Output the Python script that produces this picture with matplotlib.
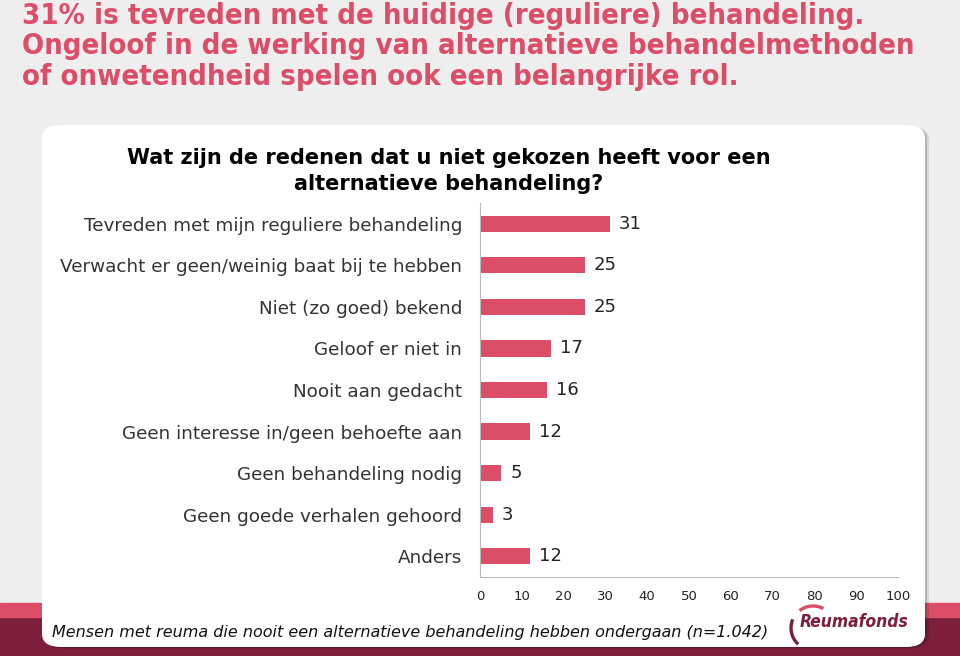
import numpy as np
import matplotlib
matplotlib.use("Agg")
import matplotlib.pyplot as plt
from matplotlib.patches import FancyBboxPatch, Rectangle, Arc

PINK = "#dc4d68"
MAROON = "#7d1f3c"
BG = "#eeeeee"

headline = ["31% is tevreden met de huidige (reguliere) behandeling.",
            "Ongeloof in de werking van alternatieve behandelmethoden",
            "of onwetendheid spelen ook een belangrijke rol."]
question = "Wat zijn de redenen dat u niet gekozen heeft voor een\nalternatieve behandeling?"
categories = ["Tevreden met mijn reguliere behandeling",
              "Verwacht er geen/weinig baat bij te hebben",
              "Niet (zo goed) bekend",
              "Geloof er niet in",
              "Nooit aan gedacht",
              "Geen interesse in/geen behoefte aan",
              "Geen behandeling nodig",
              "Geen goede verhalen gehoord",
              "Anders"]
values = [31, 25, 25, 17, 16, 12, 5, 3, 12]
xticks = list(range(0, 101, 10))
footnote = "Mensen met reuma die nooit een alternatieve behandeling hebben ondergaan (n=1.042)"

W, H = 960, 656
fig = plt.figure(figsize=(W / 100, H / 100), dpi=100)
fig.patch.set_facecolor(BG)

def fx(px):
    return px / W

def fy(py):
    return 1 - py / H

# bottom band: pink stripe over maroon
fig.patches.append(Rectangle((0, 0), 1, fy(617), transform=fig.transFigure,
                             color=MAROON, zorder=0))
fig.patches.append(Rectangle((0, fy(617)), 1, fy(603) - fy(617),
                             transform=fig.transFigure, color=PINK, zorder=0))

# white card with a soft shadow
for off, a in [(4, 0.10), (2, 0.15)]:
    fig.patches.append(FancyBboxPatch(
        (fx(42 + off), fy(647 + off / 2)), fx(925 - 42), fy(125) - fy(647),
        boxstyle="round,pad=0,rounding_size=0.02", transform=fig.transFigure,
        facecolor="black", edgecolor="none", alpha=a, zorder=1))
fig.patches.append(FancyBboxPatch(
    (fx(42), fy(647)), fx(925 - 42), fy(125) - fy(647),
    boxstyle="round,pad=0,rounding_size=0.02", transform=fig.transFigure,
    facecolor="white", edgecolor="none", zorder=2))

# headline
for i, line in enumerate(headline):
    fig.text(fx(22), fy(24 + 30.5 * i), line, color=PINK, fontsize=21,
             fontweight="bold", fontstretch="condensed", va="baseline", ha="left")

fig.text(fx(449), fy(171), question, color="black", fontsize=15,
         fontweight="bold", ha="center", va="center", linespacing=1.35)

ax = fig.add_axes([fx(480), fy(577), fx(898 - 480), fy(203) - fy(577)])
ax.set_facecolor("white")
ax.set_zorder(3)
y = np.arange(len(categories))
ax.barh(y, values, height=0.39, color=PINK)
for yi, v in zip(y, values):
    ax.text(v + 2.2, yi, str(v), va="center", ha="left", fontsize=13,
            color="#222222")
ax.set_ylim(len(categories) - 0.5, -0.5)
ax.set_xlim(0, 100)
ax.set_xticks(xticks)
ax.set_yticks(y)
ax.set_yticklabels(categories, fontsize=13.2, color="#333333")
ax.tick_params(axis="y", length=0, pad=13)
ax.tick_params(axis="x", length=0, pad=9, labelsize=9.5, labelcolor="#222222")
for s in ["top", "right"]:
    ax.spines[s].set_visible(False)
for s in ["left", "bottom"]:
    ax.spines[s].set_color("#bbbbbb")

fig.text(fx(52), fy(632), footnote, fontsize=11.55, fontstyle="italic",
         color="#111111", va="center", ha="left", zorder=4)

# logo
fig.text(fx(800), fy(622), "Reumafonds", fontsize=12.5, fontstyle="italic",
         fontweight="bold", fontstretch="condensed", color=MAROON,
         va="center", ha="left", zorder=4)
fig.patches.append(Arc((fx(813), fy(628)), fx(44), 44 / H,
                       theta1=148, theta2=238, transform=fig.transFigure,
                       color=MAROON, lw=2.4, zorder=4))
fig.patches.append(Arc((fx(813), fy(628)), fx(44), 44 / H,
                       theta1=70, theta2=118, transform=fig.transFigure,
                       color=PINK, lw=2.4, zorder=4))

fig.savefig("out.png", dpi=100, facecolor=BG)
